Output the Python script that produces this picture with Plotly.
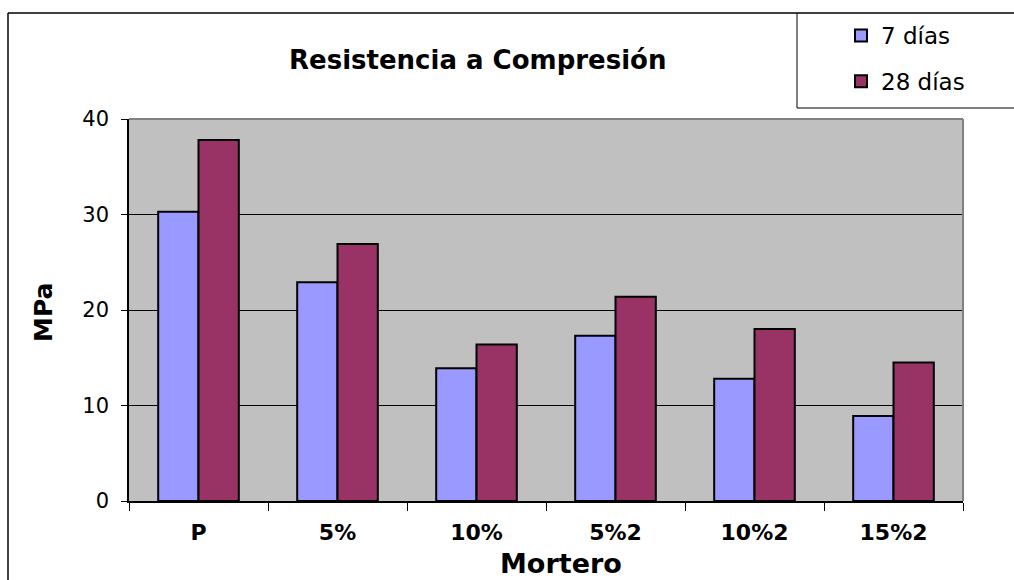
import plotly.graph_objects as go

categories = ["P", "5%", "10%", "5%2", "10%2", "15%2"]
dias7 = [30.3, 22.9, 13.9, 17.3, 12.8, 8.9]
dias28 = [37.8, 26.9, 16.4, 21.4, 18.0, 14.5]
series_names = ["7 días", "28 días"]
y_ticks = [0, 10, 20, 30, 40]

W, H = 1014, 580
L, R, T, B = 129, 963, 119, 501


def px(x):
    return (x - L) / (R - L)


def py(y):
    return (B - y) / (B - T)


fig = go.Figure()
fig.add_trace(go.Bar(x=categories, y=dias7, name=series_names[0], legendgroup="a",
                     marker=dict(color="#9999FF", line=dict(color="black", width=2))))
fig.add_trace(go.Bar(x=categories, y=dias28, name=series_names[1], legendgroup="b",
                     marker=dict(color="#993366", line=dict(color="black", width=2))))

font = "DejaVu Sans, Liberation Sans, Arial, sans-serif"
shapes = [
    # outer chart border
    dict(type="line", xref="paper", yref="paper", x0=px(8), x1=px(1020), y0=py(13), y1=py(13),
         line=dict(color="black", width=1.5)),
    dict(type="line", xref="paper", yref="paper", x0=px(8), x1=px(8), y0=py(13), y1=py(600),
         line=dict(color="black", width=1.5)),
    # legend box
    dict(type="line", xref="paper", yref="paper", x0=px(797), x1=px(797), y0=py(13), y1=py(108),
         line=dict(color="black", width=1)),
    dict(type="line", xref="paper", yref="paper", x0=px(797), x1=px(1020), y0=py(108), y1=py(108),
         line=dict(color="black", width=1)),
    # plot area border (top/right) gray
    dict(type="line", xref="paper", yref="paper", x0=0, x1=1, y0=1, y1=1,
         line=dict(color="#808080", width=2)),
    dict(type="line", xref="paper", yref="paper", x0=1, x1=1, y0=0, y1=1,
         line=dict(color="#808080", width=2)),
]

fig.update_layout(
    width=W, height=H,
    margin=dict(l=L, r=W - R, t=T, b=H - B),
    paper_bgcolor="white",
    plot_bgcolor="#C0C0C0",
    barmode="group",
    bargap=0.42,
    bargroupgap=0,
    font=dict(family=font, color="black", size=21),
    showlegend=True,
    legend=dict(x=px(841), y=py(14), xanchor="left", yanchor="top",
                font=dict(size=23, family=font), traceorder="grouped",
                tracegroupgap=13, bgcolor="rgba(0,0,0,0)"),
    shapes=shapes,
    annotations=[
        dict(text="<b>Resistencia a Compresión</b>", xref="paper", yref="paper",
             x=px(477), y=py(60), showarrow=False,
             font=dict(size=26, family=font), xanchor="center", yanchor="middle"),
        dict(text="<b>Mortero</b>", xref="paper", yref="paper",
             x=px(561), y=py(563), showarrow=False,
             font=dict(size=27, family=font), xanchor="center", yanchor="middle"),
        dict(text="<b>MPa</b>", xref="paper", yref="paper", textangle=-90,
             x=px(43), y=py(313), showarrow=False,
             font=dict(size=25, family=font), xanchor="center", yanchor="middle"),
    ],
    xaxis=dict(
        showline=True, linecolor="black", linewidth=1.5,
        ticks="outside", tickson="boundaries", ticklen=8, tickcolor="black",
        tickfont=dict(size=22, family=font),
        tickprefix="<b>", ticksuffix="</b>",
        ticklabelstandoff=11,
    ),
    yaxis=dict(
        range=[0, 40], tickvals=y_ticks,
        showline=True, linecolor="black", linewidth=1.5,
        showgrid=True, gridcolor="black", gridwidth=1,
        ticks="outside", ticklen=6, tickcolor="black",
        tickfont=dict(size=21, family=font),
        ticklabelstandoff=8,
        zeroline=False,
    ),
)

fig.write_html("out.html", config={"displayModeBar": False},
               post_script="document.body.style.margin='0px';")
